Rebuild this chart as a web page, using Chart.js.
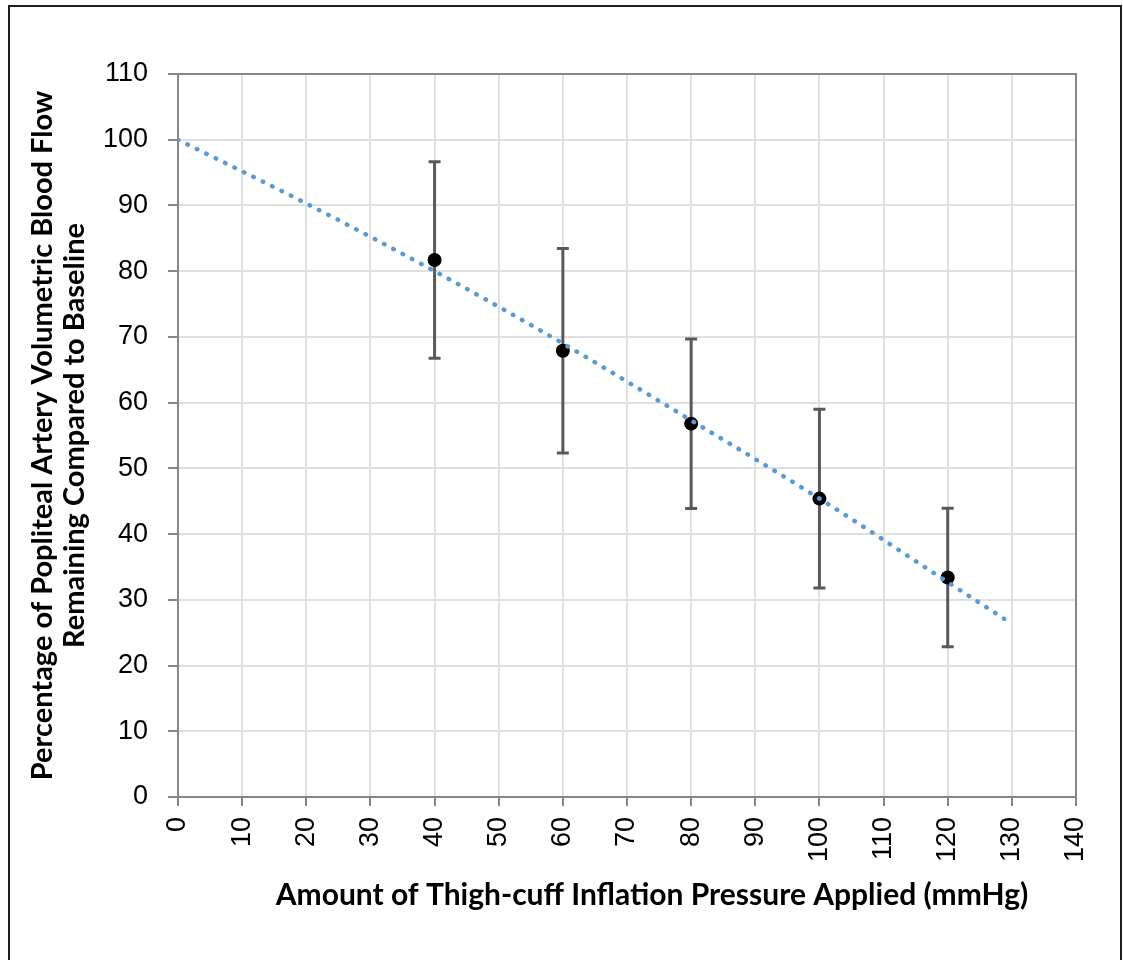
<!DOCTYPE html>
<html>
<head>
<meta charset="utf-8">
<script src="https://cdn.jsdelivr.net/npm/chart.js@4/dist/chart.umd.min.js"></script>
<style>
  html, body { margin: 0; padding: 0; background: #fff; overflow: hidden; width: 1123px; height: 960px; }
  #frame { position: absolute; left: 8px; top: 5px; width: 1110px; height: 1000px; border: 2px solid #1e1e1e; border-bottom: none; }
  #wrap { position: absolute; left: 0; top: 0; width: 1123px; height: 960px; }
</style>
</head>
<body>
<div id="frame"></div>
<div id="wrap"><canvas id="c" width="1123" height="960"></canvas></div>
<script>
// Thigh-cuff inflation pressure (mmHg) and remaining popliteal flow (% of baseline)
const pressure = [40, 60, 80, 100, 120];
const flowMean = [81.7, 67.9, 56.8, 45.4, 33.4];
const flowSD = [14.95, 15.55, 12.9, 13.6, 10.55];

// Fitted trend curve, read at these pressures
const trendX = [0, 20, 40, 60, 80, 100, 120, 128.8];
const trendY = [100, 90.3, 80.0, 69.0, 57.3, 45.4, 32.7, 27.1];

// Axis ranges / steps
const xMin = 0, xMax = 140, xStep = 10;
const yMin = 0, yMax = 110, yStep = 10;

const xTitle = 'Amount of Thigh-cuff Inflation Pressure Applied (mmHg)';
const yTitle = ['Percentage of Popliteal Artery Volumetric Blood Flow', 'Remaining Compared to Baseline'];

const meanPoints = pressure.map((p, i) => ({ x: p, y: flowMean[i] }));
const trendPoints = trendX.map((p, i) => ({ x: p, y: trendY[i] }));

const AXIS = '#868686';
const GRID = '#e0e0e0';
const TITLE_FONT = 'bold 30px Lato';

// Plot-area frame and SD error bars, drawn beneath the data markers
const errorBarPlugin = {
  id: 'errorBars',
  beforeDatasetsDraw(chart) {
    const { ctx, chartArea: a, scales: { x, y } } = chart;
    ctx.save();
    ctx.strokeStyle = AXIS;
    ctx.lineWidth = 2;
    ctx.beginPath();
    ctx.moveTo(a.left, a.top);
    ctx.lineTo(a.right, a.top);
    ctx.lineTo(a.right, a.bottom);
    ctx.stroke();

    ctx.strokeStyle = '#595959';
    ctx.lineWidth = 3;
    ctx.lineCap = 'butt';
    const cap = 6;
    pressure.forEach((p, i) => {
      const px = x.getPixelForValue(p);
      const top = y.getPixelForValue(flowMean[i] + flowSD[i]);
      const bot = y.getPixelForValue(flowMean[i] - flowSD[i]);
      ctx.beginPath();
      ctx.moveTo(px, top); ctx.lineTo(px, bot);
      ctx.moveTo(px - cap, top); ctx.lineTo(px + cap, top);
      ctx.moveTo(px - cap, bot); ctx.lineTo(px + cap, bot);
      ctx.stroke();
    });
    ctx.restore();
  }
};

// Horizontal axis title, set slightly right of the plot centre
const xTitlePlugin = {
  id: 'xTitle',
  afterDraw(chart) {
    const { ctx, chartArea: a } = chart;
    ctx.save();
    ctx.font = TITLE_FONT;
    ctx.fillStyle = '#000';
    ctx.textAlign = 'center';
    ctx.textBaseline = 'middle';
    ctx.fillText(xTitle, (a.left + a.right) / 2 + 25, a.bottom + 98);
    ctx.restore();
  }
};

new Chart(document.getElementById('c'), {
  type: 'scatter',
  data: {
    datasets: [
      {
        label: 'Trend',
        type: 'line',
        data: trendPoints,
        order: 0,
        borderColor: '#5b9bd5',
        borderWidth: 4.5,
        borderDash: [0.5, 10],
        borderCapStyle: 'round',
        pointRadius: 0,
        fill: false,
        cubicInterpolationMode: 'monotone'
      },
      {
        label: 'Mean',
        data: meanPoints,
        order: 1,
        backgroundColor: '#000',
        borderColor: '#000',
        borderWidth: 0,
        pointRadius: 7,
        pointHoverRadius: 7
      }
    ]
  },
  options: {
    responsive: false,
    animation: false,
    devicePixelRatio: 1,
    layout: { padding: { top: 74, right: 47, left: 0, bottom: 0 } },
    plugins: { legend: { display: false }, tooltip: { enabled: false } },
    scales: {
      x: {
        type: 'linear',
        min: xMin, max: xMax,
        afterFit(s) { s.height = 163; },
        ticks: {
          stepSize: xStep,
          minRotation: 90, maxRotation: 90,
          padding: 11,
          color: '#000',
          font: { family: 'Liberation Sans', size: 27 }
        },
        grid: { color: GRID, lineWidth: 2, tickColor: AXIS, tickLength: 9, tickWidth: 2 },
        border: { color: AXIS, width: 2 },
        title: { display: false }
      },
      y: {
        type: 'linear',
        min: yMin, max: yMax,
        afterFit(s) { s.width = 178; },
        ticks: {
          stepSize: yStep,
          padding: 20,
          color: '#000',
          font: { family: 'Liberation Sans', size: 27 }
        },
        grid: { color: GRID, lineWidth: 2, tickColor: AXIS, tickLength: 10, tickWidth: 2 },
        border: { color: AXIS, width: 2 },
        title: {
          display: true,
          text: yTitle,
          color: '#000',
          font: { family: 'Lato', weight: 'bold', size: 29, lineHeight: 1.1 },
          padding: { top: 27 }
        }
      }
    }
  },
  plugins: [errorBarPlugin, xTitlePlugin]
});
</script>
</body>
</html>
